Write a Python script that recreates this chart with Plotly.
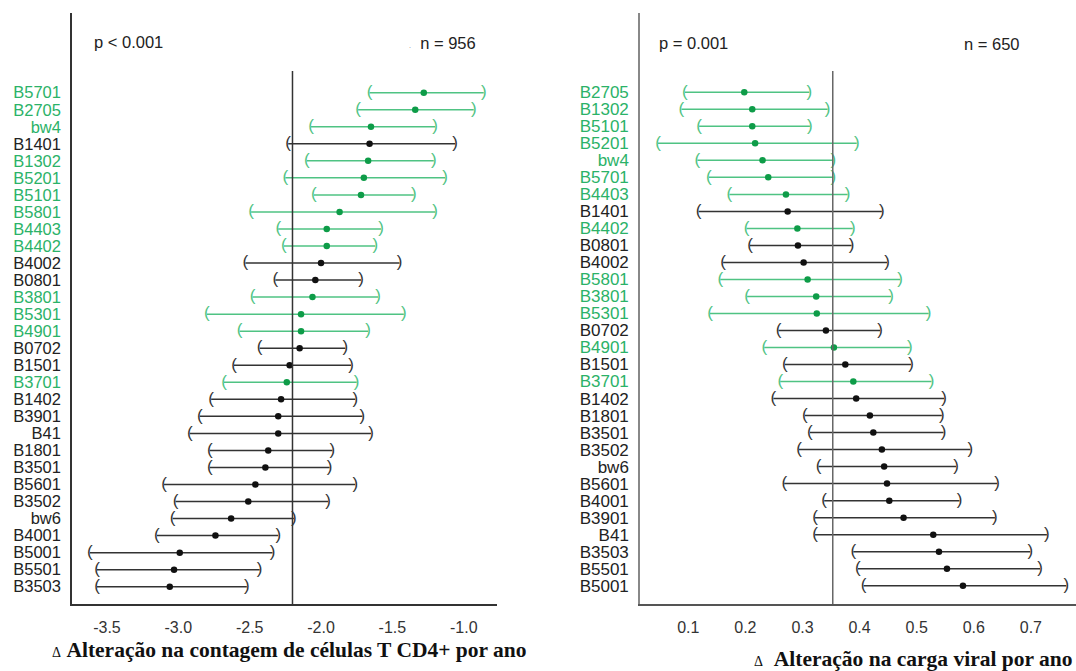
import plotly.graph_objects as go

# ---------------- data ----------------
left_labels = ["B5701", "B2705", "bw4", "B1401", "B1302", "B5201", "B5101", "B5801", "B4403", "B4402",
               "B4002", "B0801", "B3801", "B5301", "B4901", "B0702", "B1501", "B3701", "B1402", "B3901",
               "B41", "B1801", "B3501", "B5601", "B3502", "bw6", "B4001", "B5001", "B5501", "B3503"]
left_est = [-1.28, -1.34, -1.65, -1.66, -1.67, -1.70, -1.72, -1.87, -1.96, -1.96,
            -2.00, -2.04, -2.06, -2.14, -2.14, -2.15, -2.22, -2.24, -2.28, -2.30,
            -2.30, -2.37, -2.39, -2.46, -2.51, -2.63, -2.74, -2.99, -3.03, -3.06]
left_lo = [-1.66, -1.74, -2.07, -2.23, -2.10, -2.25, -2.05, -2.49, -2.30, -2.26,
           -2.53, -2.32, -2.48, -2.80, -2.57, -2.43, -2.61, -2.68, -2.77, -2.85,
           -2.92, -2.78, -2.78, -3.10, -3.02, -3.04, -3.15, -3.62, -3.57, -3.57]
left_hi = [-0.86, -0.93, -1.20, -1.06, -1.21, -1.13, -1.35, -1.20, -1.58, -1.62,
           -1.45, -1.72, -1.60, -1.42, -1.67, -1.83, -1.79, -1.75, -1.76, -1.71,
           -1.65, -1.92, -1.94, -1.76, -1.95, -2.19, -2.30, -2.34, -2.43, -2.52]
left_green = [1, 1, 1, 0, 1, 1, 1, 1, 1, 1,
              0, 0, 1, 1, 1, 0, 0, 1, 0, 0,
              0, 0, 0, 0, 0, 0, 0, 0, 0, 0]
left_ref = -2.20

right_labels = ["B2705", "B1302", "B5101", "B5201", "bw4", "B5701", "B4403", "B1401", "B4402", "B0801",
                "B4002", "B5801", "B3801", "B5301", "B0702", "B4901", "B1501", "B3701", "B1402", "B1801",
                "B3501", "B3502", "bw6", "B5601", "B4001", "B3901", "B41", "B3503", "B5501", "B5001"]
right_est = [0.198, 0.212, 0.212, 0.217, 0.230, 0.240, 0.271, 0.274, 0.291, 0.292,
             0.302, 0.309, 0.324, 0.325, 0.341, 0.355, 0.375, 0.389, 0.394, 0.418,
             0.424, 0.439, 0.443, 0.448, 0.452, 0.477, 0.529, 0.539, 0.553, 0.581]
right_lo = [0.094, 0.088, 0.119, 0.047, 0.116, 0.136, 0.172, 0.118, 0.202, 0.208,
            0.161, 0.156, 0.203, 0.138, 0.258, 0.233, 0.269, 0.261, 0.249, 0.304,
            0.313, 0.294, 0.328, 0.268, 0.338, 0.322, 0.322, 0.389, 0.397, 0.407]
right_hi = [0.312, 0.344, 0.313, 0.395, 0.354, 0.354, 0.379, 0.439, 0.388, 0.386,
            0.448, 0.471, 0.455, 0.521, 0.436, 0.488, 0.490, 0.526, 0.548, 0.544,
            0.547, 0.594, 0.569, 0.641, 0.575, 0.637, 0.728, 0.699, 0.716, 0.762]
right_green = [1, 1, 1, 1, 1, 1, 1, 0, 1, 0,
               0, 1, 1, 1, 0, 1, 0, 1, 0, 0,
               0, 0, 0, 0, 0, 0, 0, 0, 0, 0]
right_ref = 0.353

left_ticks = [-3.5, -3.0, -2.5, -2.0, -1.5, -1.0]
right_ticks = [0.1, 0.2, 0.3, 0.4, 0.5, 0.6, 0.7]

# ---------------- style ----------------
W, H = 1076, 671
GREEN_LINE = "#4fc383"
GREEN_DOT = "#0e9c48"
GREEN_TXT = "#2bb268"
BLACK_LINE = "#333333"
BLACK_DOT = "#111111"
FONT = "Liberation Sans, Arial, sans-serif"

fig = go.Figure()


def add_panel(labels, est, lo, hi, green, xa, ya, bsize):
    ys = list(range(len(labels)))
    for flag, lc, dc in [(0, BLACK_LINE, BLACK_DOT), (1, GREEN_LINE, GREEN_DOT)]:
        idx = [i for i in ys if green[i] == flag]
        lx, ly = [], []
        for i in idx:
            lx += [lo[i], hi[i], None]
            ly += [i, i, None]
        fig.add_trace(go.Scatter(x=lx, y=ly, mode="lines", line=dict(color=lc, width=1.5),
                                 xaxis=xa, yaxis=ya, hoverinfo="skip", showlegend=False))
        fig.add_trace(go.Scatter(x=[lo[i] for i in idx], y=idx, mode="text", text=["("] * len(idx),
                                 textfont=dict(family=FONT, size=bsize, color=lc),
                                 textposition="middle center", xaxis=xa, yaxis=ya,
                                 hoverinfo="skip", showlegend=False))
        fig.add_trace(go.Scatter(x=[hi[i] for i in idx], y=idx, mode="text", text=[")"] * len(idx),
                                 textfont=dict(family=FONT, size=bsize, color=lc),
                                 textposition="middle center", xaxis=xa, yaxis=ya,
                                 hoverinfo="skip", showlegend=False))
        fig.add_trace(go.Scatter(x=[est[i] for i in idx], y=idx, mode="markers",
                                 marker=dict(color=dc, size=6.5), xaxis=xa, yaxis=ya,
                                 showlegend=False))
    return ys


ysL = add_panel(left_labels, left_est, left_lo, left_hi, left_green, "x", "y", 17)
ysR = add_panel(right_labels, right_est, right_lo, right_hi, right_green, "x2", "y2", 17)


def tt(labels, green):
    return [f"<span style='color:{GREEN_TXT}'>{l}</span>" if g else l for l, g in zip(labels, green)]


top_px, bot_px = 13, 604
ydom = [(H - bot_px) / H, (H - top_px) / H]

spL = (586.7 - 92.7) / (len(left_labels) - 1)
yL_top = -(92.7 - top_px) / spL
yL_bot = (len(left_labels) - 1) + (bot_px - 586.7) / spL
spR = (585.7 - 92.3) / (len(right_labels) - 1)
yR_top = -(92.3 - top_px) / spR
yR_bot = (len(right_labels) - 1) + (bot_px - 585.7) / spR

axis_common = dict(showgrid=False, zeroline=False, ticks="", showline=True, mirror=False)

fig.update_layout(
    width=W, height=H, margin=dict(l=0, r=0, t=0, b=0),
    paper_bgcolor="white", plot_bgcolor="white",
    font=dict(family=FONT, color="#222"),
    xaxis=dict(domain=[72 / W, 497 / W], range=[-3.745, -0.767], tickvals=left_ticks,
               ticktext=[f"{v:.1f}" for v in left_ticks], linecolor="#333", linewidth=1.5,
               tickfont=dict(size=16, color="#333"), ticklabelstandoff=8, anchor="y", **axis_common),
    yaxis=dict(domain=ydom, range=[yL_bot, yL_top], tickvals=ysL, ticktext=tt(left_labels, left_green),
               linecolor="#333", linewidth=1.5, tickfont=dict(size=16.5, color="#222"),
               ticklabelstandoff=6, anchor="x", **axis_common),
    xaxis2=dict(domain=[640 / W, 1.0], range=[0.0154, 0.779], tickvals=right_ticks,
                ticktext=[f"{v:.1f}" for v in right_ticks], linecolor="#555", linewidth=1.5,
                tickfont=dict(size=16, color="#333"), ticklabelstandoff=8, anchor="y2", **axis_common),
    yaxis2=dict(domain=ydom, range=[yR_bot, yR_top], tickvals=ysR, ticktext=tt(right_labels, right_green),
                linecolor="#888", linewidth=1.5, tickfont=dict(size=17, color="#222"),
                ticklabelstandoff=6, anchor="x2", **axis_common),
)

ref_top = (bot_px - 71) / (bot_px - top_px)
fig.add_shape(type="line", xref="x", yref="y domain", x0=left_ref, x1=left_ref, y0=0, y1=ref_top,
              line=dict(color="#333", width=1.5))
fig.add_shape(type="line", xref="x2", yref="y2 domain", x0=right_ref, x1=right_ref, y0=0, y1=ref_top,
              line=dict(color="#666", width=1.5))


def pax(px):
    return px / W


def pay(py):
    return (H - py) / H


ann = [
    dict(x=pax(92), y=pay(42), text="p < 0.001", xanchor="left"),
    dict(x=pax(478), y=pay(43), text="<span style='font-size:6px'>·</span>  n = 956", xanchor="right"),
    dict(x=pax(657), y=pay(43), text="p = 0.001", xanchor="left"),
    dict(x=pax(1022), y=pay(44), text="n = 650", xanchor="right"),
]
for a in ann:
    fig.add_annotation(xref="paper", yref="paper", yanchor="middle", showarrow=False,
                       font=dict(family=FONT, size=16.5, color="#222"), **a)

fig.add_annotation(xref="paper", yref="paper", x=pax(50), y=pay(650), xanchor="left", yanchor="middle",
                   showarrow=False,
                   text="<span style='font-size:14px;font-weight:normal'>Δ</span> <b>Alteração na contagem de células T CD4+ por ano</b>",
                   font=dict(family="Liberation Serif, Times New Roman, serif", size=21.5, color="#111"))
fig.add_annotation(xref="paper", yref="paper", x=pax(752), y=pay(659), xanchor="left", yanchor="middle",
                   showarrow=False,
                   text="<span style='font-size:14px;font-weight:normal'>Δ</span>  <b>Alteração na carga viral por ano</b>",
                   font=dict(family="Liberation Serif, Times New Roman, serif", size=21.5, color="#111"))

fig.write_html("out.html")
